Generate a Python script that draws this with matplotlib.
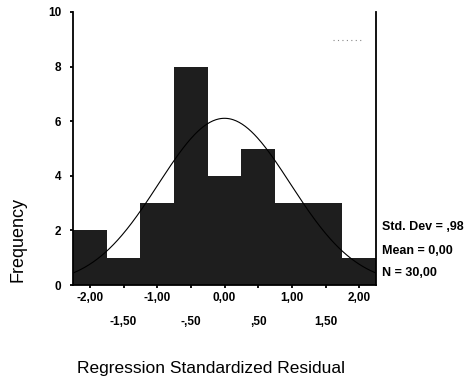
import numpy as np
import matplotlib
matplotlib.use("Agg")
import matplotlib.pyplot as plt

# Data
bin_centers = [-2.0, -1.5, -1.0, -0.5, 0.0, 0.5, 1.0, 1.5, 2.0]
frequencies = [2, 1, 3, 8, 4, 5, 3, 3, 1]
bin_width = 0.5
std_dev = 0.98
mean = 0.0
n_obs = 30
major_ticks = [-2.0, -1.0, 0.0, 1.0, 2.0]
major_labels = ["-2,00", "-1,00", "0,00", "1,00", "2,00"]
minor_ticks = [-1.5, -0.5, 0.5, 1.5]
minor_labels = ["-1,50", "-,50", ",50", "1,50"]
y_ticks = [0, 2, 4, 6, 8, 10]
stats_lines = ["Std. Dev = ,98", "Mean = 0,00", "N = 30,00"]

fig = plt.figure(figsize=(4.73, 3.80), dpi=100)
ax = fig.add_axes([73/473, 95/380, 303/473, 273/380])

ax.bar(bin_centers, frequencies, width=bin_width, color="#1e1e1e",
       edgecolor="#1e1e1e", linewidth=0, zorder=2)

# fitted normal curve from the reported statistics
xs = np.linspace(-2.25, 2.25, 300)
ys = n_obs * bin_width / (std_dev * np.sqrt(2 * np.pi)) * np.exp(-(xs - mean) ** 2 / (2 * std_dev ** 2))
ax.plot(xs, ys, color="black", linewidth=0.8, zorder=3)

ax.set_xlim(-2.25, 2.25)
ax.set_ylim(0, 10)

ax.spines["top"].set_visible(False)
for s in ["left", "right", "bottom"]:
    ax.spines[s].set_linewidth(1.3)
    ax.spines[s].set_color("black")

tick_font = dict(fontsize=8.5, fontweight="bold", family="Liberation Sans")
ax.set_yticks(y_ticks)
ax.set_yticklabels([str(v) for v in y_ticks], **tick_font)
ax.tick_params(axis="y", length=2.5, width=1.3, pad=6)

ax.set_xticks(major_ticks)
ax.set_xticklabels(major_labels, **tick_font)
ax.set_xticks(minor_ticks, minor=True)
ax.set_xticklabels(minor_labels, minor=True, **tick_font)
ax.tick_params(axis="x", which="major", length=2, width=1.3, pad=3)
ax.tick_params(axis="x", which="minor", length=2, width=1.3, pad=20)

# small dotted legend remnant at top right
ax.plot([0.857, 0.957], [0.897, 0.897], transform=ax.transAxes, color="#888888",
        linestyle=(0, (1, 3)), linewidth=0.8, clip_on=False)

# stats
stats_y = [227, 251, 273]
for txt, yy in zip(stats_lines, stats_y):
    fig.text(382/473, 1 - yy/380, txt, fontsize=9, fontweight="bold",
             family="Liberation Sans", ha="left", va="center")

fig.text(18/473, 1 - 239/380, "Frequency", rotation=90, fontsize=13,
         family="Liberation Sans", ha="center", va="center")
fig.text(211/473, 1 - 368/380, "Regression Standardized Residual", fontsize=12.5,
         family="Liberation Sans", ha="center", va="center")

fig.savefig("out.png", dpi=100)
